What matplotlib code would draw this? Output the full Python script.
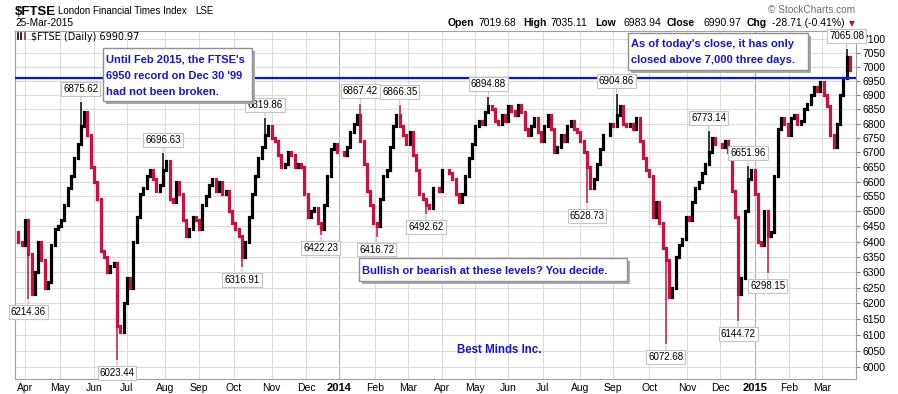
import numpy as np
import pandas as pd
import matplotlib
matplotlib.use("Agg")
import matplotlib.pyplot as plt
from matplotlib.patches import Rectangle
from matplotlib.lines import Line2D
from matplotlib.ticker import FixedLocator, NullLocator

plt.rcParams["font.family"] = ["Liberation Sans", "DejaVu Sans"]

# FTSE closes, one every 2nd trading day (ending 25-Mar-2015)
first_open = 6430
close_apr_jul13 = [6400, 6390, 6470, 6360, 6230, 6300, 6400, 6340, 6250, 6270,
                   6390, 6440, 6450, 6470, 6520, 6580, 6620, 6680, 6730, 6790,
                   6840, 6760, 6650, 6600, 6540, 6370, 6350, 6300, 6320, 6330,
                   6130, 6110, 6200, 6280, 6250, 6400, 6480, 6560, 6580, 6620,
                   6640, 6610]
close_jul_nov13 = [6570, 6590, 6640, 6670, 6540, 6530, 6600, 6560, 6470, 6420,
                   6440, 6480, 6470, 6440, 6520, 6550, 6590, 6610, 6570, 6600,
                   6560, 6570, 6500, 6460, 6440, 6420, 6350, 6400, 6480, 6560,
                   6620, 6680, 6720, 6760, 6790, 6750, 6740, 6690, 6650, 6660,
                   6700, 6690]
close_nov13_mar14 = [6650, 6660, 6650, 6560, 6480, 6500, 6510, 6460, 6440, 6520,
                     6620, 6710, 6730, 6700, 6700, 6690, 6720, 6770, 6800, 6830,
                     6740, 6660, 6570, 6520, 6460, 6450, 6540, 6620, 6640, 6720,
                     6790, 6830, 6790, 6760, 6730, 6770, 6690, 6640, 6560, 6540,
                     6520, 6510, 6580]
close_mar_jul14 = [6580, 6570, 6640, 6640, 6630, 6610, 6560, 6530, 6560, 6620,
                   6680, 6730, 6790, 6810, 6800, 6840, 6860, 6850, 6810, 6800,
                   6830, 6810, 6860, 6845, 6830, 6865, 6840, 6780, 6760, 6790,
                   6820, 6770, 6740, 6790, 6830, 6780, 6700, 6720, 6760, 6740,
                   6790, 6810, 6780]
close_jul_nov14 = [6770, 6740, 6700, 6650, 6580, 6610, 6660, 6710, 6760, 6760,
                   6800, 6790, 6830, 6860, 6800, 6790, 6800, 6780, 6820, 6740,
                   6680, 6640, 6620, 6480, 6530, 6460, 6380, 6340, 6220, 6250,
                   6350, 6390, 6410, 6480, 6470, 6530, 6580, 6600, 6630, 6660,
                   6700, 6750, 6730]
close_nov14_mar15 = [6730, 6720, 6740, 6700, 6570, 6480, 6230, 6280, 6500, 6610,
                     6640, 6560, 6400, 6390, 6500, 6420, 6430, 6620, 6780, 6820,
                     6800, 6760, 6820, 6830, 6800, 6810, 6850, 6870, 6900, 6930,
                     6915, 6945, 6900, 6860, 6760, 6720, 6800, 6900, 6960, 7037,
                     6991]

# labelled extremes
ext_dates = ["2013-04-05", "2013-05-22", "2013-06-24", "2013-08-01", "2013-10-09",
             "2013-10-29", "2013-12-13", "2014-01-21", "2014-02-04", "2014-02-24",
             "2014-03-19", "2014-05-14", "2014-08-08", "2014-09-04", "2014-10-16",
             "2014-11-21", "2014-12-16", "2014-12-29", "2015-01-14", "2015-03-23"]
ext_vals = [6214.36, 6875.62, 6023.44, 6696.63, 6316.91, 6819.86, 6422.23, 6867.42,
            6416.72, 6866.35, 6492.62, 6894.88, 6528.73, 6904.86, 6072.68, 6773.14,
            6144.72, 6651.96, 6298.15, 7065.08]

record_line = 6960
uk_holidays = ["2013-03-29", "2013-04-01", "2013-05-06", "2013-05-27", "2013-08-26",
               "2013-12-25", "2013-12-26", "2014-01-01", "2014-04-18", "2014-04-21",
               "2014-05-05", "2014-05-26", "2014-08-25", "2014-12-25", "2014-12-26",
               "2015-01-01"]

W, H = 898, 394
def fx(x):
    return x / W
def fy(y):
    return 1 - y / H

days = pd.bdate_range("2013-03-22", "2015-03-25")
days = days[~days.isin(pd.to_datetime(uk_holidays))]
closes = np.array(close_apr_jul13 + close_jul_nov13 + close_nov13_mar14
                  + close_mar_jul14 + close_jul_nov14 + close_nov14_mar15, float)
pos = np.arange(len(days))[::-1][::2][::-1]
prev = np.r_[first_open, closes[:-1]]
red = "#cc1040"
cols = np.where(closes < prev, red, "black")

fig = plt.figure(figsize=(W / 100, H / 100), dpi=100)
ax = fig.add_axes([fx(15), fy(379), (855.7 - 15) / W, (379 - 31) / H])
ax.set_yscale("log")
ax.set_ylim(5964, 7131)
ax.set_xlim(-1.1, 510.5)

lc = ax.vlines(pos, np.minimum(prev, closes), np.maximum(prev, closes),
               colors=cols, linewidth=2.3, zorder=3)
lc.set_capstyle("projecting")

# extremes: wick + label
ext_pos = days.get_indexer(pd.to_datetime(ext_dates))
for i, (p, v) in enumerate(zip(ext_pos, ext_vals)):
    k = np.argmin(np.abs(pos - p))
    ax.vlines(pos[k], min(v, closes[k]), max(v, closes[k]), colors=cols[k],
              linewidth=1.1, zorder=3)
    up = i % 2 == 1
    ax.annotate(f"{v:.2f}", xy=(pos[k], v), xytext=(0, 8 if up else -8),
                textcoords="offset pixels", ha="center",
                va="bottom" if up else "top", fontsize=7,
                bbox=dict(boxstyle="square,pad=0.2", fc="white", ec="#c4c4c4", lw=0.8),
                arrowprops=dict(arrowstyle="-", color="#c4c4c4", lw=0.8,
                                shrinkA=0, shrinkB=1),
                annotation_clip=False, zorder=6)

ax.axhline(record_line, color="#0a14e6", lw=1.6, zorder=4)

# axes styling
yt = np.arange(6000, 7101, 50)
ax.yaxis.set_major_locator(FixedLocator(yt))
ax.yaxis.set_minor_locator(NullLocator())
ax.set_yticklabels([str(v) for v in yt])
ax.yaxis.tick_right()
ax.tick_params(axis="y", length=3, pad=2, labelsize=7.5, color="#808080")

idx = pd.Series(np.arange(len(days)), index=days)
firsts = idx.groupby([days.year, days.month]).first().iloc[1:]
mlabels = [str(y) if m == 1 else pd.Timestamp(y, m, 1).strftime("%b")
           for (y, m) in firsts.index]
ax.set_xticks(firsts.values)
ax.set_xticklabels(mlabels)
ax.tick_params(axis="x", length=0, pad=3, labelsize=7.5)
for t, lab in zip(ax.get_xticklabels(), mlabels):
    if lab.isdigit():
        t.set_fontweight("bold")
        t.set_fontsize(8)

ax.grid(True, color="#dcdcdc", lw=0.8, zorder=0)
for g, lab in zip(ax.get_xgridlines(), mlabels):
    if lab.isdigit():
        g.set_color("#b0b0b0")
ax.set_axisbelow(True)
for s in ax.spines.values():
    s.set_color("#a0a0a0")

# header
fig.text(fx(15), fy(15), "\\$FTSE", fontsize=9.5, weight="bold")
fig.text(fx(58), fy(14), "London Financial Times Index", fontsize=7)
fig.text(fx(195), fy(14), "LSE", fontsize=7)
fig.text(fx(15), fy(26), "25-Mar-2015", fontsize=7.3)
fig.text(fx(855), fy(13), "\u00a9 StockCharts.com", fontsize=7.3, color="#707070", ha="right")
hdr = [(448, "Open", True), (478, "7019.68", False), (523, "High", True),
       (550, "7035.11", False), (595, "Low", True), (623, "6983.94", False),
       (667, "Close", True), (703, "6990.97", False), (747, "Chg", True),
       (772, "-28.71 (-0.41%)", False)]
for x, s, b in hdr:
    fig.text(fx(x), fy(26), s, fontsize=7.5, weight="bold" if b else "normal")
fig.text(fx(852), fy(26), "\u25bc", fontsize=5.5, color="#b0103a", ha="center",
         family="DejaVu Sans")

fig.text(fx(31), fy(39.5), "$FTSE (Daily) 6990.97", fontsize=7, family="DejaVu Sans")
for x0, c in [(18, "black"), (21, "black"), (25, red)]:
    fig.lines.append(Line2D([fx(x0), fx(x0)], [fy(33), fy(39)], color=c, lw=1.2,
                            transform=fig.transFigure))

# note boxes
blue = "#1414e0"
def note_box(x0, y0, x1, y1):
    fig.patches.append(Rectangle((fx(x0 + 3), fy(y1 + 3)), (x1 - x0) / W, (y1 - y0) / H,
                                 transform=fig.transFigure, fc="#a8a8a8", ec="none", zorder=5))
    fig.patches.append(Rectangle((fx(x0), fy(y1)), (x1 - x0) / W, (y1 - y0) / H,
                                 transform=fig.transFigure, fc="white", ec="#909090",
                                 lw=1, zorder=6))

note_box(103, 48, 252, 101)
for yb, s in [(62, "Until Feb 2015, the FTSE's"), (79, "6950 record on Dec 30 '99"),
              (95, "had not been broken.")]:
    fig.text(fx(106), fy(yb), s, fontsize=8, weight="bold", color=blue, zorder=7)

note_box(628, 33, 808, 70)
for yb, s in [(47, "As of today's close, it has only"), (63, "closed above 7,000 three days.")]:
    fig.text(fx(631), fy(yb), s, fontsize=8, weight="bold", color=blue, zorder=7)

note_box(359, 258, 627, 281)
fig.text(fx(362), fy(273.5), "Bullish or bearish at these levels? You decide.",
         fontsize=8, weight="bold", color=blue, zorder=7)

fig.text(fx(457), fy(353), "Best Minds Inc.", fontsize=8.3, weight="bold", color=blue)

fig.savefig("out.png", dpi=100)
